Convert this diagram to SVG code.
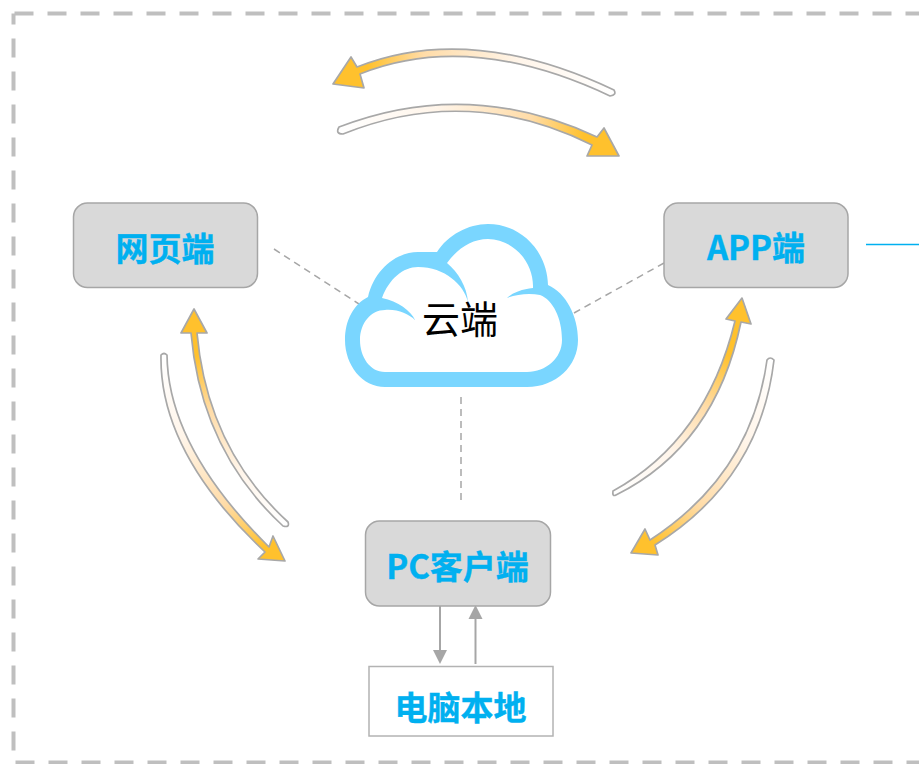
<svg xmlns="http://www.w3.org/2000/svg" width="919" height="764" viewBox="0 0 919 764">
<style>
.node{fill:#d9d9d9;stroke:#a6a6a6;stroke-width:1.5}
.lbl{font-family:"Noto Sans CJK SC","Liberation Sans",sans-serif;font-weight:700;font-size:33px;fill:#00b0f0;stroke:#00b0f0;stroke-width:.4;text-anchor:middle}
.dash{fill:none;stroke:#a6a6a6;stroke-width:1.5;stroke-dasharray:7 5}
.solid{fill:none;stroke:#a6a6a6;stroke-width:2}
.ah{fill:#a6a6a6}
.arc{stroke:#a8a8a8;stroke-width:1.7;stroke-linejoin:round}
</style>
<defs>
<linearGradient id="g1" gradientUnits="userSpaceOnUse" x1="614" y1="90" x2="340" y2="70"><stop offset="0" stop-color="#fff"/><stop offset=".35" stop-color="#fff5ea"/><stop offset=".7" stop-color="#ffdca8"/><stop offset=".9" stop-color="#ffc12d"/></linearGradient>
<linearGradient id="g2" gradientUnits="userSpaceOnUse" x1="339" y1="130" x2="610" y2="150"><stop offset="0" stop-color="#fff"/><stop offset=".35" stop-color="#fff5ea"/><stop offset=".7" stop-color="#ffdca8"/><stop offset=".9" stop-color="#ffc12d"/></linearGradient>
<linearGradient id="g3" gradientUnits="userSpaceOnUse" x1="286" y1="524" x2="194" y2="320"><stop offset="0" stop-color="#fff"/><stop offset=".3" stop-color="#fff5ea"/><stop offset=".6" stop-color="#ffdca8"/><stop offset=".85" stop-color="#ffc12d"/></linearGradient>
<linearGradient id="g4" gradientUnits="userSpaceOnUse" x1="164" y1="355" x2="275" y2="555"><stop offset="0" stop-color="#fff"/><stop offset=".35" stop-color="#fff5ea"/><stop offset=".7" stop-color="#ffdca8"/><stop offset=".95" stop-color="#ffc12d"/></linearGradient>
<linearGradient id="g5" gradientUnits="userSpaceOnUse" x1="614" y1="493" x2="742" y2="310"><stop offset="0" stop-color="#fff"/><stop offset=".3" stop-color="#fff5ea"/><stop offset=".55" stop-color="#ffdca8"/><stop offset=".8" stop-color="#ffc12d"/></linearGradient>
<linearGradient id="g6" gradientUnits="userSpaceOnUse" x1="770" y1="360" x2="640" y2="548"><stop offset="0" stop-color="#fff"/><stop offset=".35" stop-color="#fff5ea"/><stop offset=".7" stop-color="#ffdca8"/><stop offset=".95" stop-color="#ffc12d"/></linearGradient>
</defs>
<rect width="919" height="764" fill="#fff"/>
<rect id="frame" x="13.5" y="13.5" width="940" height="749" fill="none" stroke="#bfbfbf" stroke-width="4" stroke-dasharray="19 14" stroke-dashoffset="-1"/>
<g id="connectors">
<path class="dash" d="M274,249L362,306"/>
<path class="dash" d="M574,313L664,263"/>
<path class="dash" d="M461,397V500"/>
<path d="M866,244.5H919" fill="none" stroke="#00b0f0" stroke-width="1.5"/>
<path class="solid" d="M440,606V651"/><path class="ah" d="M433,650H447L440,664Z"/>
<path class="solid" d="M475.5,664V618"/><path class="ah" d="M468.5,619H482.5L475.5,605Z"/>
<path class="arc" fill="url(#g1)" d="M614,90Q470,22 357,67L351,57L333,84L364,88L360,74Q470,30 610,96Q617,95 614,90Z"/>
<path class="arc" fill="url(#g2)" d="M339,127Q468,77 597,137L604,128L619,156L587,156L592,145Q468,83.500 343,134Q335,134 339,127Z"/>
<path class="arc" fill="url(#g3)" d="M288,522Q207.500,448.500 197,333H207L194,309L181,333H191Q201,450 283,526Q290,528 288,522Z"/>
<path class="arc" fill="url(#g4)" d="M167,355Q168,447 269,547L273,536L285,561L258,559L265,552Q159,452.500 161,355Q164,352 167,355Z"/>
<path class="arc" fill="url(#g5)" d="M616,495Q715.500,445.500 741,322L751,324L742,298L726,319L735,321Q706,440 613,491Q612,497 616,495Z"/>
<path class="arc" fill="url(#g6)" d="M774,360Q760,479.500 655,545L658,555L631,553L645,529L650,540Q751.500,474 767,360Q770,356 774,360Z"/>
</g>
<g id="cloud">
<path fill="#7ad6ff" d="M385,387C362,387 345,365 345,340C345,320 354,304 368,297C374,270 396,252 418,252C425,252 431,252 437,252C448,235 468,224 488,224C520,224 547,250 548,285C566,293 578,316 578,340C578,366 556,387 527,387Z"/>
<path fill="#fff" d="M385,372C370,372 360,357 360,340C360,323 371,310 385,310C398,309 408,314 415,320C411,311 398,301 382,298C389,279 403,267 418,267C445,267 464,285 468,302C467,287 458,272 447,263C458,248 472,239 488,239C513,239 534,262 533,288C522,289 512,293 507,298C517,294 530,293 540,295C553,300 562,318 562,340C562,358 546,372 527,372Z"/>
<text x="460" y="333" font-family="'Noto Sans CJK SC','Liberation Sans',sans-serif" font-size="38" text-anchor="middle" fill="#000">云端</text>
</g>
<g id="web"><rect class="node" x="73.500" y="203" width="184" height="84.500" rx="14"/><text class="lbl" x="165" y="261">网页端</text></g>
<g id="app"><rect class="node" x="664" y="203" width="184" height="84.500" rx="14"/><text class="lbl" x="756" y="260">APP端</text></g>
<g id="pc"><rect class="node" x="365.500" y="521" width="185" height="85" rx="14"/><text class="lbl" x="457.500" y="579">PC客户端</text></g>
<g id="local"><rect x="369" y="666.500" width="184" height="69.500" fill="#fff" stroke="#b3b3b3" stroke-width="1.500"/><text class="lbl" x="460.500" y="720">电脑本地</text></g>
</svg>
